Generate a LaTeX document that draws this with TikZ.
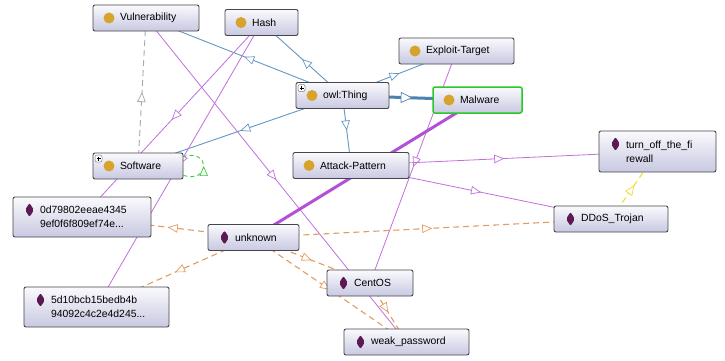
\documentclass[tikz,border=0pt]{standalone}
\usepackage{fontspec}
\setmainfont{Liberation Sans}
\usetikzlibrary{arrows.meta}
\usetikzlibrary{decorations.markings}
\definecolor{boxtop}{RGB}{250,250,253}
\definecolor{boxbot}{RGB}{200,200,226}
\definecolor{boxline}{RGB}{70,70,75}
\definecolor{dotcol}{RGB}{214,164,44}
\definecolor{indcol}{RGB}{92,26,82}
\definecolor{subblue}{RGB}{100,152,192}
\definecolor{thickblue}{RGB}{75,130,175}
\definecolor{typepurple}{RGB}{192,112,222}
\definecolor{thickpurple}{RGB}{180,80,214}
\definecolor{proporange}{RGB}{226,156,96}
\definecolor{propyellow}{RGB}{238,222,50}
\definecolor{eqgrey}{RGB}{168,168,168}
\definecolor{loopgreen}{RGB}{64,204,64}
\definecolor{malgreen}{RGB}{40,200,40}
\newcommand{\boxfont}{\fontsize{10.4}{14}\selectfont}
\newcommand{\iconpad}{\hspace*{27pt}}
\newcommand{\classdot}{\fill[dotcol] ([shift={(16pt,-13pt)}]path picture bounding box.north west) circle (5.5pt);}
\newcommand{\inddiamond}{\fill[indcol] ([shift={(16.5pt,-6pt)}]path picture bounding box.north west) -- ++(4.5pt,-7pt) -- ++(-4.5pt,-7pt) -- ++(-4.5pt,7pt) -- cycle;}
\newcommand{\plusbox}{\draw[gray, fill=white, line width=0.5pt] ([shift={(2pt,-2pt)}]path picture bounding box.north west) rectangle ++(7pt,-7pt);
  \draw[black, line width=0.6pt] ([shift={(3.5pt,-5.5pt)}]path picture bounding box.north west) -- ++(4pt,0pt) ([shift={(5.5pt,-3.5pt)}]path picture bounding box.north west) -- ++(0pt,-4pt);}
\pgfdeclarelayer{edges}
\pgfsetlayers{edges,main}
\tikzstyle{box}=[rectangle, rounded corners=2pt, draw=boxline, line width=0.9pt, top color=boxtop, bottom color=boxbot, font=\boxfont, align=left, inner xsep=0pt, inner ysep=3pt, minimum height=26pt]
\tikzstyle{classnode}=[box, path picture={\classdot}]
\tikzstyle{plusnode}=[box, path picture={\classdot\plusbox}]
\tikzstyle{indnode}=[box, path picture={\inddiamond}]
\tikzstyle{midarrow}=[postaction={decorate}, decoration={markings, mark=at position 0.5 with {\arrow{Triangle[fill=white, line width=0.7pt, length=10pt, width=8.5pt]}}}]
\tikzstyle{bigarrow}=[postaction={decorate}, decoration={markings, mark=at position 0.52 with {\arrow{Triangle[fill=white, line width=0.7pt, length=12pt, width=11pt]}}}]
\tikzstyle{subedge}=[subblue, line width=0.9pt, midarrow]
\tikzstyle{typeedge}=[typepurple, line width=0.8pt, midarrow]
\tikzstyle{propedge}=[proporange, line width=1.1pt, dash pattern=on 6pt off 4pt, midarrow]

\begin{document}
\begin{tikzpicture}[x=1pt, y=-1pt]
    \useasboundingbox (0,0) rectangle (725,360);
    % classes
    \foreach \pos/\name/\bw/\txt in {{(146,18)/vuln/106/Vulnerability}, {(261.5,22.5)/hash/73/Hash}, {(456.5,51)/exploit/115/Exploit-Target}, {(351,165.5)/attack/116/Attack-Pattern}}
        \node[classnode, text width=\bw pt] (\name) at \pos {\iconpad\txt};
    \node[classnode, text width=89pt, draw=malgreen, line width=1.5pt] (malware) at (477.5,100) {\iconpad Malware};
    \node[plusnode, text width=93pt] (thing) at (342.5,95.5) {\iconpad owl:Thing};
    \node[plusnode, text width=90pt] (software) at (138,166) {\iconpad Software};

    % individuals
    \foreach \pos/\name/\bw/\txt in {{(253.5,237.5)/unknown/91/unknown}, {(611,219)/ddos/114/DDoS\_Trojan}, {(370,283)/centos/86/CentOS}, {(406.5,342)/weakpw/125/weak\_password}}
        \node[indnode, text width=\bw pt] (\name) at \pos {\iconpad\txt};
    \node[indnode, text width=117pt, minimum height=41pt] (firewall) at (657.5,151.5) {\iconpad turn\_off\_the\_fi\\\iconpad rewall};
    \node[indnode, text width=138pt, minimum height=40pt] (hexA) at (82,217) {\iconpad 0d79802eeae4345\\\iconpad 9ef0f6f809ef74e...};
    \node[indnode, text width=145pt, minimum height=40pt] (hexB) at (96.5,307) {\iconpad 5d10bcb15bedb4b\\\iconpad 94092c4c2e4d245...};

    \begin{pgfonlayer}{edges}
    \fill[white] (0,0) rectangle (725,360);
    % subclass links
    \foreach \dest in {vuln, hash, exploit, software, attack}
        \draw[subedge] (thing.center) -- (\dest.center);
    \draw[thickblue, line width=3pt, bigarrow] (thing.center) -- (malware.center);
    % instance links
    \foreach \source/\dest in {vuln/weakpw, hash/hexA, hash/hexB, exploit/centos, attack/firewall, attack/ddos}
        \draw[typeedge] (\source.center) -- (\dest.center);
    \draw[typeedge, thickpurple, line width=3pt] (malware.center) -- (unknown.center);
    % properties
    \foreach \dest in {hexA, hexB, ddos, centos, weakpw}
        \draw[propedge] (unknown.center) -- (\dest.center);
    \draw[propedge] (centos.center) -- (weakpw.center);
    \draw[propedge, propyellow] (ddos.center) -- (firewall.center);
    \draw[propedge, eqgrey, line width=0.9pt] (software.center) -- (vuln.center);
    \draw[propedge, loopgreen, line width=0.9pt, dash pattern=on 4pt off 3pt] ([yshift=4pt]software.south east) .. controls +(27pt,-8pt) and +(27pt,8pt) .. ([yshift=-4pt]software.north east);
    \end{pgfonlayer}
\end{tikzpicture}
\end{document}
